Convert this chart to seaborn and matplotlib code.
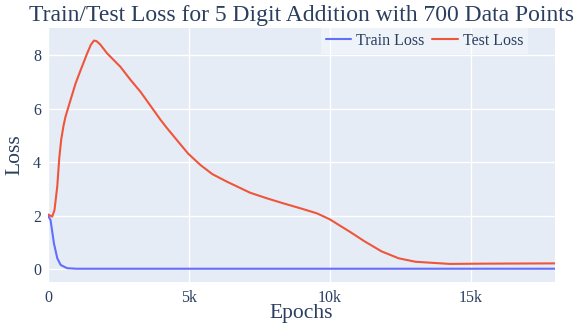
import matplotlib
matplotlib.use("Agg")
import matplotlib.pyplot as plt
import matplotlib.ticker as mticker
import numpy as np
import pandas as pd
import seaborn as sns

# Loss curves (epoch, loss)
train_epochs = [0, 90, 150, 210, 330, 450, 680, 1000, 18000]
train_loss = [2.00, 1.83, 1.40, 0.96, 0.40, 0.15, 0.03, 0.01, 0.01]

test_epochs = [0, 150, 230, 330, 400, 470, 550, 620, 800, 980, 1160, 1390,
               1520, 1630, 1720, 1850, 2100, 2570, 2930, 3280, 3640, 4000,
               4230, 4520, 4970, 5410, 5830, 6360, 7180, 7780, 8370, 8960,
               9550, 10000, 10750, 11230, 11840, 12450, 13050, 14260, 15500,
               18000]
test_loss = [2.04, 1.96, 2.20, 3.10, 4.15, 4.85, 5.35, 5.69, 6.32, 6.94, 7.44,
             8.06, 8.38, 8.54, 8.52, 8.40, 8.06, 7.56, 7.07, 6.63, 6.10, 5.57,
             5.26, 4.89, 4.32, 3.89, 3.55, 3.26, 2.85, 2.64, 2.45, 2.27, 2.08,
             1.86, 1.37, 1.04, 0.66, 0.40, 0.27, 0.19, 0.20, 0.21]

x_ticks = [0, 5000, 10000, 15000]
y_ticks = [0, 2, 4, 6, 8]

df = pd.concat([
    pd.DataFrame({"Epochs": train_epochs, "Loss": train_loss, "series": "Train Loss"}),
    pd.DataFrame({"Epochs": test_epochs, "Loss": test_loss, "series": "Test Loss"}),
])

text_color = "#2a3f5f"
sns.set_theme(style="darkgrid", rc={
    "axes.facecolor": "#E5ECF6",
    "grid.color": "white",
    "grid.linewidth": 1.0,
    "axes.edgecolor": "#E5ECF6",
    "text.color": text_color,
    "axes.labelcolor": text_color,
    "xtick.color": text_color,
    "ytick.color": text_color,
})
plt.rcParams["font.family"] = ["Liberation Serif", "DejaVu Serif"]

fig = plt.figure(figsize=(5.77, 3.25), dpi=100)
ax = fig.add_axes([48 / 577, 1 - 282 / 325, (555 - 48) / 577, (282 - 28) / 325])

sns.lineplot(data=df, x="Epochs", y="Loss", hue="series",
             palette={"Train Loss": "#636EFA", "Test Loss": "#EF553B"},
             linewidth=1.5, ax=ax, estimator=None, sort=False)

ax.set_xlim(0, 18000)
ax.set_ylim(-0.486, 9.01)
ax.set_xticks(x_ticks)
ax.set_yticks(y_ticks)
ax.xaxis.set_major_formatter(mticker.FuncFormatter(
    lambda v, p: "0" if v == 0 else f"{v / 1000:g}k"))
ax.tick_params(axis="both", labelsize=11.5, length=0)
ax.tick_params(axis="x", pad=6)
ax.tick_params(axis="y", pad=5)
for s in ax.spines.values():
    s.set_visible(False)

ax.set_xlabel("Epochs", fontsize=15.5)
ax.xaxis.set_label_coords(0.5, -0.088)
ax.set_ylabel("Loss", fontsize=15.5, labelpad=6)
ax.set_title("Train/Test Loss for 5 Digit Addition with 700 Data Points",
             fontsize=17, pad=5)

leg = ax.legend(loc="upper right", bbox_to_anchor=(0.947, 1.0), ncol=2,
                fontsize=11.5, frameon=True, handlelength=1.6,
                handletextpad=0.3, columnspacing=0.5, borderpad=0.3,
                borderaxespad=0.0)
leg.get_frame().set_facecolor("white")
leg.get_frame().set_alpha(0.35)
leg.get_frame().set_edgecolor("none")
leg.get_frame().set_boxstyle("square", pad=0)

fig.savefig("out.png", dpi=100)
